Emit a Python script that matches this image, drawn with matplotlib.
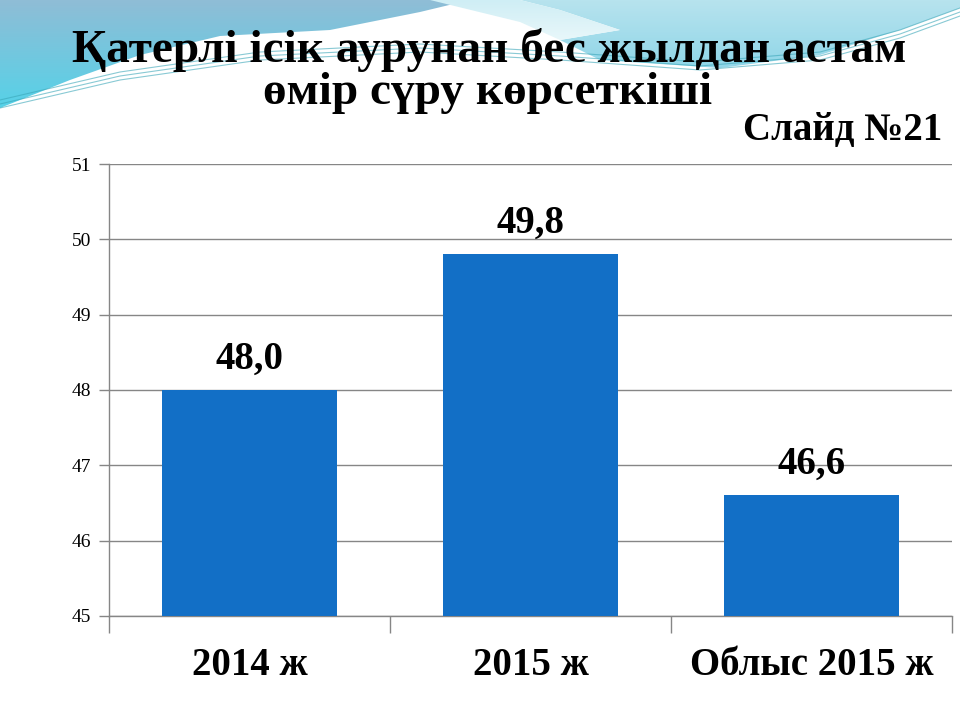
import numpy as np
from matplotlib import pyplot as plt
from matplotlib.path import Path
from matplotlib.patches import PathPatch

categories = ["2014 ж", "2015 ж", "Облыс 2015 ж"]
values = [48.0, 49.8, 46.6]
value_labels = ["48,0", "49,8", "46,6"]
y_ticks = [45, 46, 47, 48, 49, 50, 51]

title_1 = "Қатерлі ісік аурунан бес жылдан астам"
title_2 = "өмір сүру көрсеткіші"
slide_no = "Слайд №21"

bar_color = '#126fc6'
grid_color = '#868686'
serif = ['Liberation Serif', 'DejaVu Serif']

fig = plt.figure(figsize=(9.6, 7.2), dpi=100)

# background decoration (wavy blue band at the top of the slide)
bg = fig.add_axes([0, 0, 1, 1])
bg.set_xlim(0, 960)
bg.set_ylim(720, 0)
bg.axis('off')


def gradient(ax, verts, c_top, c_bot, y0, y1, alpha=1.0):
	path = Path(verts + [verts[0]], closed=True)
	patch = PathPatch(path, facecolor='none', edgecolor='none')
	ax.add_patch(patch)
	t = np.linspace(0, 1, 64).reshape(-1, 1)
	c1 = np.array(plt.matplotlib.colors.to_rgb(c_top))
	c2 = np.array(plt.matplotlib.colors.to_rgb(c_bot))
	img = (c1 * (1 - t) + c2 * t).reshape(64, 1, 3)
	im = ax.imshow(img, extent=(0, 960, y1, y0), aspect='auto', alpha=alpha, zorder=1)
	im.set_clip_path(patch)


left_band = [(0, 0), (470, 0), (420, 12), (330, 30), (220, 36), (140, 55), (70, 80), (0, 108)]
gradient(bg, left_band, '#8fbdd6', '#55d2e8', 0, 110)

right_band = [(520, 0), (960, 0), (960, 8), (900, 30), (820, 55), (720, 68), (600, 60), (560, 40), (620, 30), (560, 10)]
gradient(bg, right_band, '#b7e3ee', '#8fd6e8', 0, 70)

mid_band = [(430, 0), (520, 0), (560, 10), (620, 30), (560, 40), (520, 22)]
gradient(bg, mid_band, '#cfeef5', '#e8f7fa', 0, 40)

for dy in (0, 4, 8):
	xs = np.array([0, 120, 260, 420, 560, 700, 820, 900, 960])
	ys = np.array([100, 72, 52, 44, 52, 62, 52, 30, 8]) + dy
	bg.plot(xs, ys, color='#3aa6b8', lw=0.8, alpha=0.6, zorder=2)

# chart
ax = fig.add_axes([109 / 960, 1 - 616 / 720, 843 / 960, 452 / 720])
ax.patch.set_alpha(0)
x = np.arange(len(categories))
ax.bar(x, values, width=0.626, color=bar_color, zorder=3, bottom=0)
ax.set_ylim(45, 51)
ax.set_xlim(-0.5, len(categories) - 0.5)
ax.set_yticks(y_ticks)
ax.set_yticklabels([str(v) for v in y_ticks], fontfamily=serif, fontsize=14)
ax.yaxis.grid(True, color=grid_color, lw=1, zorder=0)
ax.set_axisbelow(True)

for s in ('top', 'right'):
	ax.spines[s].set_visible(False)
for s in ('left', 'bottom'):
	ax.spines[s].set_color(grid_color)
	ax.spines[s].set_linewidth(1)

ax.tick_params(axis='y', length=7, color=grid_color, width=1, pad=6)
ax.set_xticks(np.arange(len(categories) + 1) - 0.5)
ax.set_xticklabels([])
ax.tick_params(axis='x', which='major', length=12, color=grid_color, width=1)
ax.set_xticks(x, minor=True)
ax.set_xticklabels(categories, minor=True, fontfamily=serif, fontsize=28, fontweight='bold')
ax.tick_params(axis='x', which='minor', length=0, pad=22)

for xi, v, lab in zip(x, values, value_labels):
	ax.annotate(lab, (xi, v), xytext=(0, 9), textcoords='offset points',
		ha='center', va='bottom', fontfamily=serif, fontsize=28, fontweight='bold')

fig.text(0.51, 1 - 62 / 720, title_1, ha='center', va='baseline',
	fontfamily=serif, fontsize=34, fontweight='bold')
fig.text(0.508, 1 - 104 / 720, title_2, ha='center', va='baseline',
	fontfamily=serif, fontsize=34, fontweight='bold')
fig.text(942 / 960, 1 - 140 / 720, slide_no, ha='right', va='baseline',
	fontfamily=serif, fontsize=28, fontweight='bold')

fig.savefig('out.png', dpi=100)
